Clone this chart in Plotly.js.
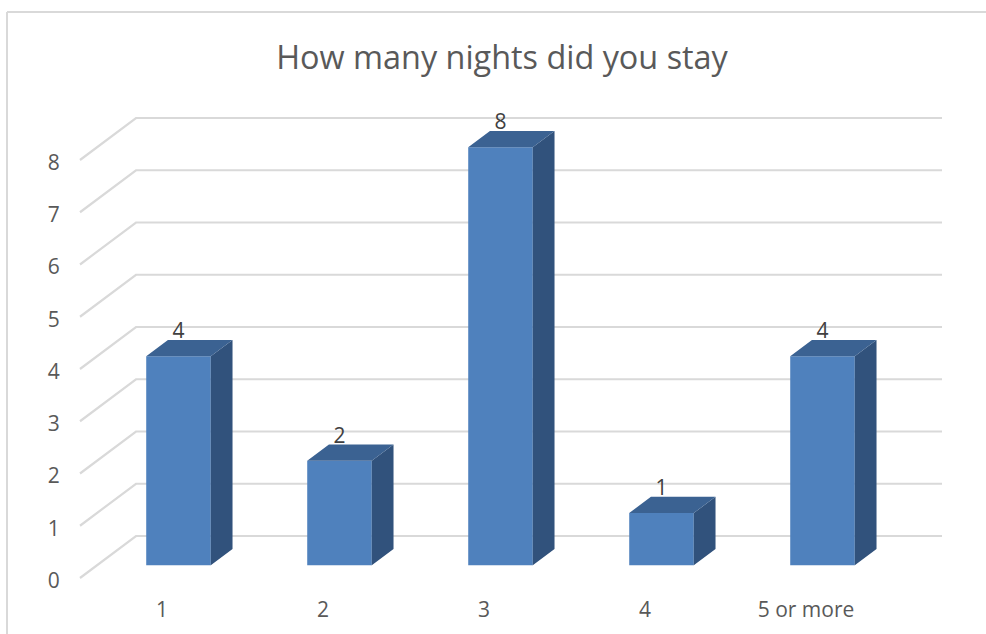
<!DOCTYPE html>
<html>
<head>
<meta charset="utf-8">
<script src="https://cdn.plot.ly/plotly-3.0.1.min.js"></script>
<style>html,body{margin:0;padding:0;background:#fff;overflow:hidden}</style>
</head>
<body>
<div id="chart" style="width:986px;height:634px"></div>
<script>
const categories = ['1', '2', '3', '4', '5 or more'];
const nights = [4, 2, 8, 1, 4];
const yTicks = [0, 1, 2, 3, 4, 5, 6, 7, 8];
const chartTitle = 'How many nights did you stay';

const FONT = '"Open Sans", sans-serif';
const W = 986, H = 634, L = 70, R = 950, T = 100, B = 590;
const PITCH = 161, UNIT = 52.25;
const LABEL_X0 = 162, BAR_X0 = 178.5;   // px centre of category 0: label plane, bar plane
const LABEL_Y0 = 580.5, BAR_Y0 = 565.3; // px of value 0: label plane, bar plane
const BAR_W = 0.401, DX = 0.135, DY = 0.312;  // bar width and extrusion in axis units

const xr = x0 => [(L - x0) / PITCH, (R - x0) / PITCH];
const yr = y0 => [(y0 - B) / UNIT, (y0 - T) / UNIT];

// wall gridlines in the label plane
const gridFront = (80 - LABEL_X0) / PITCH;
const gridBack = (136 - LABEL_X0) / PITCH;
const gridEnd = (942 - LABEL_X0) / PITCH;
const gridLift = 2.5 / UNIT;
const gridRise = 44.5 / UNIT;
const gx = [], gy = [];
yTicks.forEach(v => {
  gx.push(gridFront, gridBack, gridEnd, null);
  gy.push(v + gridLift, v + gridRise, v + gridRise, null);
});

// extruded faces in the bar plane
const sideX = [], sideY = [], topX = [], topY = [];
nights.forEach((v, i) => {
  const a = i - BAR_W / 2, b = i + BAR_W / 2;
  sideX.push(b, b + DX, b + DX, b, b, null);
  sideY.push(0, DY, v + DY, v, 0, null);
  topX.push(a, b, b + DX, a + DX, a, null);
  topY.push(v, v, v + DY, v + DY, v, null);
});
const idx = categories.map((c, i) => i);

const traces = [
  {type: 'scatter', mode: 'lines', x: gx, y: gy, xaxis: 'x', yaxis: 'y',
   line: {color: '#d9d9d9', width: 2.2}, hoverinfo: 'skip', showlegend: false},
  {type: 'bar', x: idx, y: nights, width: BAR_W, xaxis: 'x2', yaxis: 'y2',
   marker: {color: '#4f81bd', line: {width: 0}}, showlegend: false},
  {type: 'scatter', mode: 'lines', x: sideX, y: sideY, xaxis: 'x2', yaxis: 'y2',
   fill: 'toself', fillcolor: '#31527c', line: {width: 0, color: '#31527c'}, hoverinfo: 'skip', showlegend: false},
  {type: 'scatter', mode: 'lines', x: topX, y: topY, xaxis: 'x2', yaxis: 'y2',
   fill: 'toself', fillcolor: '#3b6292', line: {width: 0, color: '#3b6292'}, hoverinfo: 'skip', showlegend: false},
  {type: 'scatter', mode: 'text', x: idx, y: nights.map(v => v + DY - 0.07), text: nights.map(String),
   textposition: 'top center', textfont: {family: FONT, size: 21, color: '#404040'},
   xaxis: 'x2', yaxis: 'y2', hoverinfo: 'skip', showlegend: false}
];

const px = x => (x - L) / (R - L);
const py = y => (B - y) / (B - T);

const layout = {
  width: W, height: H,
  margin: {l: L, r: W - R, t: T, b: H - B, pad: 0},
  paper_bgcolor: '#ffffff', plot_bgcolor: 'rgba(0,0,0,0)',
  font: {family: FONT, color: '#595959'},
  showlegend: false,
  barmode: 'overlay',
  title: {text: chartTitle, x: 502 / W, xref: 'container', xanchor: 'center',
          y: 1 - 58 / H, yref: 'container', yanchor: 'middle',
          font: {family: FONT, size: 32.4, color: '#595959'}},
  xaxis: {type: 'linear', range: xr(LABEL_X0), tickmode: 'array',
          tickvals: idx, ticktext: categories, showgrid: false, zeroline: false, showline: false,
          ticks: 'outside', ticklen: 1, tickcolor: 'rgba(0,0,0,0)',
          tickfont: {family: FONT, size: 21, color: '#595959'}, fixedrange: true},
  yaxis: {type: 'linear', range: yr(LABEL_Y0), tickmode: 'array', tickvals: yTicks,
          showgrid: false, zeroline: false, showline: false,
          ticks: 'outside', ticklen: 5, tickcolor: 'rgba(0,0,0,0)',
          tickfont: {family: FONT, size: 21, color: '#595959'}, fixedrange: true},
  xaxis2: {type: 'linear', range: xr(BAR_X0), overlaying: 'x', anchor: 'y2', visible: false, fixedrange: true},
  yaxis2: {type: 'linear', range: yr(BAR_Y0), overlaying: 'y', anchor: 'x2', visible: false, fixedrange: true},
  shapes: [
    {type: 'line', xref: 'paper', yref: 'paper', x0: px(7), x1: px(7), y0: py(12), y1: py(634),
     line: {color: '#d9d9d9', width: 2}},
    {type: 'line', xref: 'paper', yref: 'paper', x0: px(7), x1: px(986), y0: py(12), y1: py(12),
     line: {color: '#d9d9d9', width: 2}}
  ]
};
Plotly.newPlot('chart', traces, layout, {displayModeBar: false, staticPlot: true});
</script>
</body>
</html>
